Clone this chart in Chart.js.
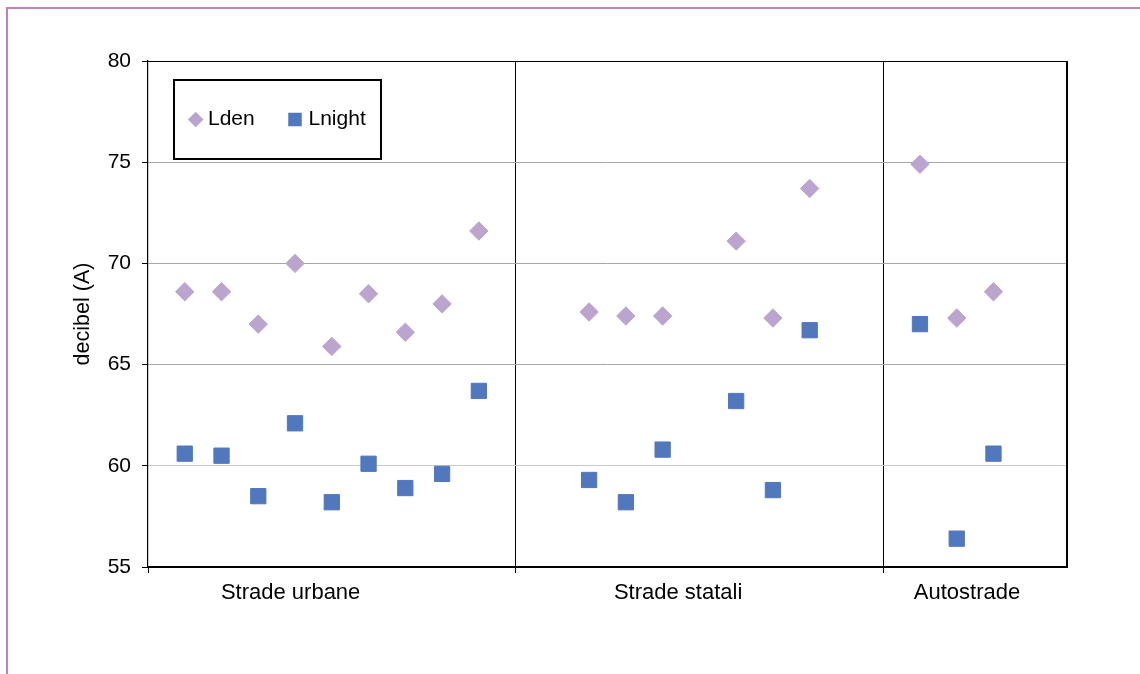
<!DOCTYPE html>
<html>
<head>
<meta charset="utf-8">
<title>Lden / Lnight</title>
<script src="https://cdn.jsdelivr.net/npm/chart.js@4.4.1/dist/chart.umd.min.js"></script>
<style>
  html, body { margin: 0; padding: 0; background: #fff; overflow: hidden; }
  #wrap { position: relative; width: 1140px; height: 674px; }
  #frame { position: absolute; left: 6px; top: 7px; width: 1200px; height: 720px;
           border-top: 2px solid #c27fc2; border-left: 2px solid #c27fc2; }
  #c { position: absolute; left: 0; top: 0; }
</style>
</head>
<body>
<div id="wrap">
  <div id="frame"></div>
  <canvas id="c" width="1140" height="674"></canvas>
</div>
<script>
// ---- data ----
const categories = ['Strade urbane', 'Strade statali', 'Autostrade'];
const seriesNames = ['Lden', 'Lnight'];
// measuring sites along the x axis (groups separated at 10 and 20)
const siteX  = [1, 2, 3, 4, 5, 6, 7, 8, 9, 12, 13, 14, 16, 17, 18, 21, 22, 23];
const lden   = [68.6, 68.6, 67.0, 70.0, 65.9, 68.5, 66.6, 68.0, 71.6,
                67.6, 67.4, 67.4, 71.1, 67.3, 73.7,
                74.9, 67.3, 68.6];
const lnight = [60.6, 60.5, 58.5, 62.1, 58.2, 60.1, 58.9, 59.6, 63.7,
                59.3, 58.2, 60.8, 63.2, 58.8, 66.7,
                67.0, 56.4, 60.6];
const yTicks = [55, 60, 65, 70, 75, 80];
const groupBreaks = [0, 10, 20];

// ---- layout / style ----
const FONT = "'Liberation Sans', Arial, Helvetica, sans-serif";
const labelAt = [3.88, 14.42, 22.28];          // where each group name sits on the x scale
const COLORS = { Lden: '#BBA5CF', Lnight: '#5177BD' };
const xTickValues = groupBreaks.concat(labelAt).sort((a, b) => a - b);
const TRANSPARENT = 'rgba(0,0,0,0)';

function toPoints(ys) { return siteX.map((x, i) => ({ x: x, y: ys[i] })); }

// Top/right frame of the plot and the boxed legend
const plotFrameAndLegend = {
  id: 'plotFrameAndLegend',
  beforeDatasetsDraw(chart) {
    const { ctx, chartArea: a } = chart;
    ctx.save();
    ctx.strokeStyle = '#000';
    ctx.lineWidth = 1.2;
    ctx.beginPath();
    ctx.moveTo(a.left, a.top + 0.5);
    ctx.lineTo(a.right, a.top + 0.5);
    ctx.stroke();
    ctx.lineWidth = 2;
    ctx.beginPath();
    ctx.moveTo(a.right, a.top);
    ctx.lineTo(a.right, a.bottom);
    ctx.stroke();
    ctx.restore();
  },
  afterDatasetsDraw(chart) {
    const ctx = chart.ctx;
    const box = { x: 174, y: 80, w: 207, h: 79 };
    ctx.save();
    ctx.fillStyle = '#fff';
    ctx.fillRect(box.x, box.y, box.w, box.h);
    ctx.lineWidth = 2;
    ctx.strokeStyle = '#000';
    ctx.strokeRect(box.x, box.y, box.w, box.h);

    const cy = box.y + 39.5;
    const items = [
      { ds: chart.data.datasets[0], mx: 195.7, tx: 208 },
      { ds: chart.data.datasets[1], mx: 295, tx: 308.5 }
    ];
    items.forEach(it => {
      ctx.fillStyle = it.ds.backgroundColor;
      ctx.beginPath();
      if (it.ds.pointStyle === 'rectRot') {
        const r = 7.8;
        ctx.moveTo(it.mx - r, cy);
        ctx.lineTo(it.mx, cy - r);
        ctx.lineTo(it.mx + r, cy);
        ctx.lineTo(it.mx, cy + r);
        ctx.closePath();
      } else {
        const s = 13.5;
        ctx.rect(it.mx - s / 2, cy - s / 2, s, s);
      }
      ctx.fill();
      ctx.fillStyle = '#000';
      ctx.font = '21px ' + FONT;
      ctx.textAlign = 'left';
      ctx.textBaseline = 'middle';
      ctx.fillText(it.ds.label, it.tx, cy);
    });
    ctx.restore();
  }
};

new Chart(document.getElementById('c'), {
  type: 'scatter',
  data: {
    datasets: [
      {
        label: seriesNames[0],
        data: toPoints(lden),
        pointStyle: 'rectRot',
        pointRadius: 9.2,
        pointHoverRadius: 9.2,
        backgroundColor: COLORS.Lden,
        borderColor: COLORS.Lden,
        borderWidth: 1
      },
      {
        label: seriesNames[1],
        data: toPoints(lnight),
        pointStyle: 'rect',
        pointRadius: 10.8,
        pointHoverRadius: 10.8,
        backgroundColor: COLORS.Lnight,
        borderColor: COLORS.Lnight,
        borderWidth: 1
      }
    ]
  },
  options: {
    responsive: false,
    animation: false,
    devicePixelRatio: 1,
    events: [],
    layout: { padding: { left: 0, top: 61, right: 73, bottom: 0 }, autoPadding: false },
    plugins: { legend: { display: false }, tooltip: { enabled: false } },
    scales: {
      x: {
        type: 'linear',
        position: 'bottom',
        min: 0,
        max: 25,
        afterBuildTicks: s => { s.ticks = xTickValues.map(v => ({ value: v })); },
        afterFit: s => { s.height = 107; },
        grid: {
          color: c => (c.tick && groupBreaks.includes(c.tick.value) && c.tick.value !== 0) ? '#000' : TRANSPARENT,
          tickColor: c => (c.tick && groupBreaks.includes(c.tick.value)) ? '#000' : TRANSPARENT,
          tickLength: 6,
          lineWidth: 1
        },
        border: { color: '#000', width: 2 },
        ticks: {
          autoSkip: false,
          maxRotation: 0,
          padding: 7,
          color: '#000',
          font: { family: FONT, size: 22 },
          callback: v => { const i = labelAt.indexOf(v); return i >= 0 ? categories[i] : ''; }
        }
      },
      y: {
        type: 'linear',
        min: 55,
        max: 80,
        afterBuildTicks: s => { s.ticks = yTicks.map(v => ({ value: v })); },
        afterFit: s => { s.width = 148; },
        grid: {
          color: c => (c.tick && c.tick.value === 60) ? '#c9c9d2' : '#a8a8a8',
          tickColor: '#000',
          tickLength: 6,
          lineWidth: 1
        },
        border: { color: '#000', width: 1.2 },
        ticks: {
          padding: 11,
          color: '#000',
          font: { family: FONT, size: 21 }
        },
        title: {
          display: true,
          text: 'decibel (A)',
          color: '#000',
          font: { family: FONT, size: 21.5 },
          padding: { top: 70, bottom: 0 }
        }
      }
    }
  },
  plugins: [plotFrameAndLegend]
});
</script>
</body>
</html>
